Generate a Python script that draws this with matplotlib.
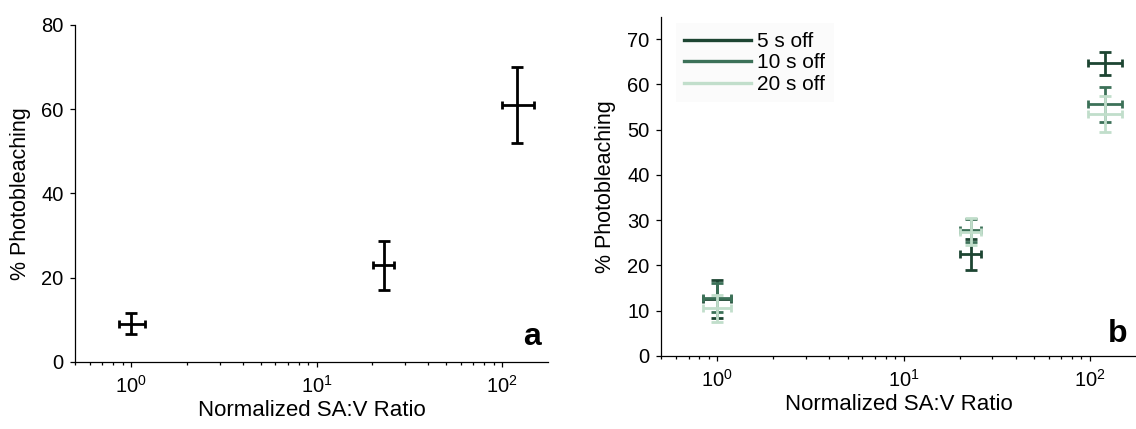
import numpy as np
import matplotlib
matplotlib.use('Agg')
import matplotlib.pyplot as plt
from matplotlib.lines import Line2D
from matplotlib.ticker import LogLocator, NullFormatter, FixedLocator

plt.rcParams['font.family'] = ['Liberation Sans', 'DejaVu Sans']
plt.rcParams['mathtext.fontset'] = 'custom'
plt.rcParams['mathtext.rm'] = 'Liberation Sans'
plt.rcParams['mathtext.it'] = 'Liberation Sans:italic'
plt.rcParams['mathtext.bf'] = 'Liberation Sans:bold'

# normalized SA:V ratio of the three geometries
ratio = [1, 23, 120]

# panel a: single condition
a_bleach = [9.0, 22.9, 61.0]
a_bleach_err = [2.5, 5.8, 9.0]
a_ratio_err_lo = [0.145, 2.8, 20]
a_ratio_err_hi = [0.19, 3.2, 29]

# panel b: three off times
off_labels = ['5 s off', '10 s off', '20 s off']
b_bleach_5 = [12.5, 22.4, 64.7]
b_err_5 = [4.2, 3.4, 2.6]
b_bleach_10 = [12.8, 27.7, 55.6]
b_err_10 = [3.2, 2.6, 3.9]
b_bleach_20 = [10.5, 27.4, 53.5]
b_err_20 = [3.0, 3.0, 4.0]
b_ratio_err_lo = [0.16, 3.0, 22]
b_ratio_err_hi = [0.18, 3.0, 29]

colors = ['#1d4532', '#3c7158', '#c1decb']

W, H = 1136, 429
fig = plt.figure(figsize=(W / 100, H / 100), dpi=100)


def px_axes(left, right, top, bottom):
    return fig.add_axes([left / W, (H - bottom) / H, (right - left) / W, (bottom - top) / H])


def style(ax):
    ax.set_xscale('log')
    ax.set_xlim(0.5, 177)
    ax.spines['top'].set_visible(False)
    ax.spines['right'].set_visible(False)
    for s in ['left', 'bottom']:
        ax.spines[s].set_linewidth(0.9)
    ax.xaxis.set_major_locator(FixedLocator([1, 10, 100]))
    ax.xaxis.set_minor_locator(LogLocator(base=10, subs=np.arange(2, 10), numticks=20))
    ax.xaxis.set_minor_formatter(NullFormatter())
    ax.tick_params(which='major', direction='out', length=3.5, width=0.9, labelsize=14.5, pad=5)
    ax.tick_params(which='minor', direction='out', length=2, width=0.9)
    ax.tick_params(axis='x', which='major', pad=6)
    ax.set_xlabel('Normalized SA:V Ratio', fontsize=16, labelpad=2)
    ax.set_ylabel('% Photobleaching', fontsize=15.5)


def bars(ax, y, yerr, xlo, xhi, color, lw=2.0):
    ax.errorbar(ratio, y, yerr=yerr, fmt='none', ecolor=color, elinewidth=lw,
                capsize=4.3, capthick=lw)
    ax.errorbar(ratio, y, xerr=[xlo, xhi], fmt='none', ecolor=color, elinewidth=lw,
                capsize=2.6, capthick=lw)


# panel a
ax1 = px_axes(75.3, 548, 25, 361.7)
style(ax1)
ax1.set_ylim(0, 80)
ax1.set_yticks([0, 20, 40, 60, 80])
ax1.yaxis.labelpad = 7
bars(ax1, a_bleach, a_bleach_err, a_ratio_err_lo, a_ratio_err_hi, 'black')
ax1.text(0.985, 0.05, 'a', transform=ax1.transAxes, ha='right', va='baseline',
         fontsize=23, fontweight='bold')

# panel b
ax2 = px_axes(661.3, 1136, 16.7, 355.7)
style(ax2)
ax2.set_ylim(0, 75)
ax2.set_yticks(np.arange(0, 71, 10))
ax2.yaxis.labelpad = 8
series = [b_bleach_5, b_bleach_10, b_bleach_20]
errs = [b_err_5, b_err_10, b_err_20]
for y, e, c in zip(series, errs, colors):
    bars(ax2, y, e, b_ratio_err_lo, b_ratio_err_hi, c)
ax2.text(0.982, 0.041, 'b', transform=ax2.transAxes, ha='right', va='baseline',
         fontsize=23, fontweight='bold')

handles = [Line2D([], [], color=c, lw=2.4) for c in colors]
leg = ax2.legend(handles, off_labels, loc='upper left', bbox_to_anchor=(0.031, 0.98),
                 borderaxespad=0, fontsize=15, handlelength=3.2, handletextpad=0.3,
                 labelspacing=0.12, borderpad=0.4, frameon=True, fancybox=False)
leg.get_frame().set_facecolor('#fbfbfb')
leg.get_frame().set_edgecolor('none')

fig.savefig('out.png', dpi=100)
